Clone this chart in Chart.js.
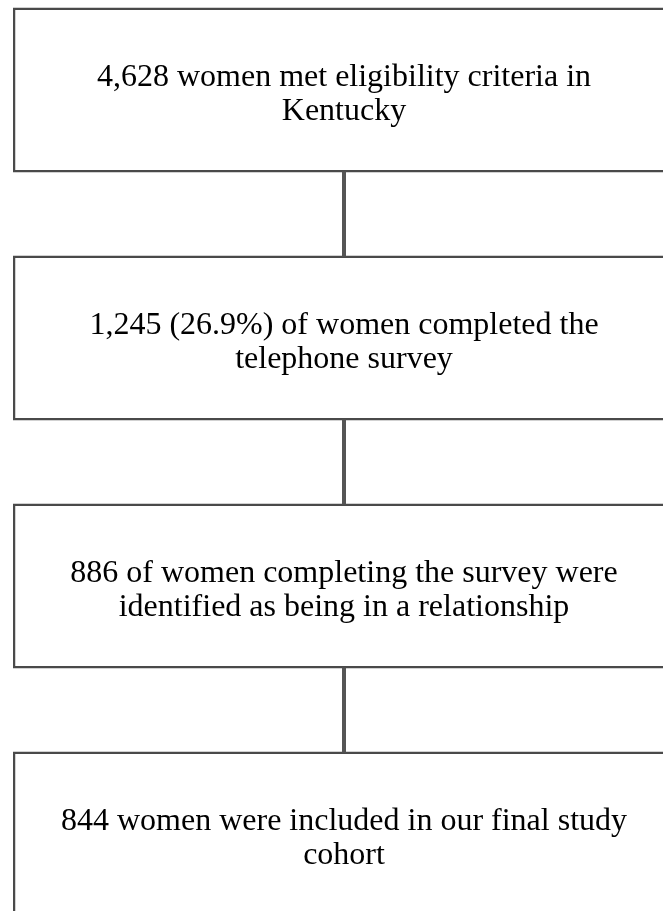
<!DOCTYPE html>
<html>
<head>
<meta charset="utf-8">
<script src="https://cdn.jsdelivr.net/npm/chart.js@4"></script>
<style>
    html, body { margin: 0; padding: 0; background: #fff; overflow: hidden; width: 663px; height: 911px; }
    #wrap { position: absolute; left: 0; top: -34.5px; width: 676px; height: 992px; }
</style>
</head>
<body>
<div id="wrap"><canvas id="flowChart"></canvas></div>
<script>
// flow steps, one box each, lines as they wrap in the picture
const stepLabels = ['eligible', 'surveyed', 'in relationship', 'final cohort'];
const stepLines = [
    ['4,628 women met eligibility criteria in', 'Kentucky'],
    ['1,245 (26.9%) of women completed the', 'telephone survey'],
    ['886 of women completing the survey were', 'identified as being in a relationship'],
    ['844 women were included in our final study', 'cohort']
];
const stepCounts = [4628, 1245, 886, 844];
// every box spans the full width of the page
const boxSpan = [0, 1];

// connectors and box texts
const flowPlugin = {
    id: 'flowPlugin',
    afterDatasetsDraw: function(chart) {
        const ctx = chart.ctx;
        const bars = chart.getDatasetMeta(0).data;
        ctx.save();
        // vertical connectors between boxes
        ctx.strokeStyle = '#555';
        ctx.lineWidth = 4;
        for (let i = 0; i < bars.length - 1; i++) {
            const a = bars[i], b = bars[i + 1];
            const cx = (a.x + a.base) / 2;
            ctx.beginPath();
            ctx.moveTo(cx, a.y + a.height / 2 - 1);
            ctx.lineTo(cx, b.y - b.height / 2 + 1);
            ctx.stroke();
        }
        // texts
        ctx.fillStyle = '#000';
        ctx.font = "32px 'Liberation Serif', 'Times New Roman', serif";
        ctx.textAlign = 'center';
        ctx.textBaseline = 'alphabetic';
        const lineH = 34;
        bars.forEach(function(bar, i) {
            const lines = stepLines[i];
            const cx = (bar.x + bar.base) / 2;
            const mid = bar.y + 13;
            const first = mid - (lines.length - 1) * lineH / 2;
            lines.forEach(function(line, j) {
                ctx.fillText(line, cx, first + j * lineH);
            });
        });
        ctx.restore();
    }
};

document.addEventListener('DOMContentLoaded', function() {
    const ctx = document.getElementById('flowChart');
    new Chart(ctx, {
        type: 'bar',
        data: {
            labels: stepLabels,
            datasets: [{
                label: 'women',
                data: stepCounts.map(function() { return boxSpan; }),
                backgroundColor: '#fff',
                borderColor: '#4a4a4a',
                borderWidth: 2.5,
                borderSkipped: false,
                categoryPercentage: 1,
                barPercentage: 165 / 248
            }]
        },
        options: {
            indexAxis: 'y',
            responsive: true,
            maintainAspectRatio: false,
            animation: false,
            layout: { padding: { left: 13, right: 1, top: 0, bottom: 0 } },
            scales: {
                x: { display: false, min: 0, max: 1 },
                y: { display: false }
            },
            plugins: {
                legend: { display: false },
                tooltip: { enabled: false }
            }
        },
        plugins: [flowPlugin]
    });
});
</script>
</body>
</html>
